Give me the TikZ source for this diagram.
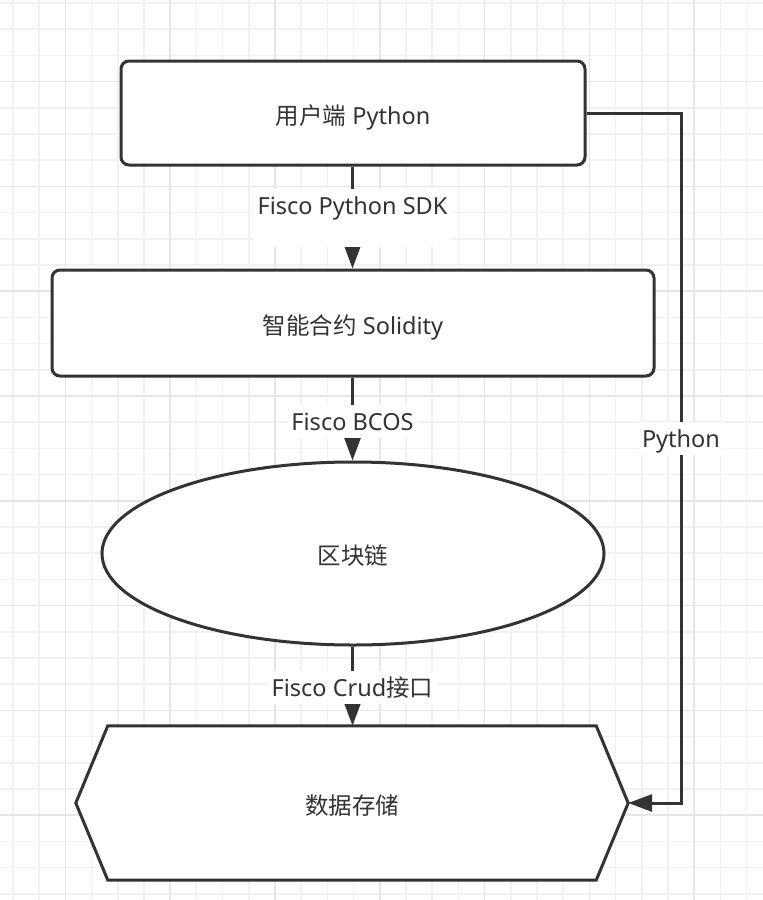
\documentclass[tikz,border=0pt]{standalone}
\usepackage{fontspec}
\setmainfont{Noto Sans}
\newfontfamily\cjk{Noto Sans CJK SC}
\usetikzlibrary{arrows.meta,shapes.geometric,calc}
\definecolor{ink}{HTML}{333333}
\definecolor{gridminor}{HTML}{F1F1F1}
\definecolor{gridmajor}{HTML}{E6E6E6}
\pgfdeclarelayer{gridlayer}
\pgfdeclarelayer{under}
\pgfsetlayers{gridlayer,under,main}
\begin{document}
\begin{tikzpicture}[x=1pt,y=-1pt,
  txt/.style={font=\fontsize{23.5}{28}\selectfont, text=ink},
  shapebox/.style={txt, draw=ink, line width=3pt, fill=white, inner sep=0pt, text height=22pt, text depth=0pt},
  arr/.style={draw=ink, line width=3pt, -{Triangle[width=17pt,length=24pt]}},
  lbl/.style={txt, fill=white, inner xsep=3.5pt, inner ysep=0pt, text height=25pt, text depth=8pt, anchor=base}]
\useasboundingbox (0,0) rectangle (763,900);
\begin{pgfonlayer}{gridlayer}
  \fill[white] (0,0) rectangle (763,900);
  \foreach \k in {0,...,28} {\draw[gridminor, line width=1.5pt] ({13+26.2*\k},0) -- ({13+26.2*\k},900);}
  \foreach \k in {0,...,34} {\draw[gridminor, line width=1.5pt] (0,{3+26.2*\k}) -- (763,{3+26.2*\k});}
  \foreach \k in {2,6,...,26} {\draw[gridmajor, line width=1.5pt] ({13+26.2*\k},0) -- ({13+26.2*\k},900);}
  \foreach \k in {3,7,...,31} {\draw[gridmajor, line width=1.5pt] (0,{3+26.2*\k}) -- (763,{3+26.2*\k});}
\end{pgfonlayer}

\node[shapebox, rounded corners=8pt, minimum width=464pt, minimum height=104pt] (app) at (353,113) {{\cjk 用户端} Python};
\node[shapebox, rounded corners=8pt, minimum width=602pt, minimum height=106pt] (contract) at (353,323) {{\cjk 智能合约} Solidity};
\node[shapebox, ellipse, minimum width=502pt, minimum height=183pt] (chain) at (353,553.5) {{\cjk 区块链}};
\node[txt, inner sep=0pt, minimum width=488pt, minimum height=154pt, text height=22pt, text depth=0pt] (store) at (352,803) {{\cjk 数据存储}};
\coordinate (storetip) at ([xshift=32pt]store.east);
\coordinate (storeleft) at ([xshift=-32pt]store.west);
\begin{pgfonlayer}{under}
  \draw[ink, line width=3pt, fill=white] (store.north west) -- (store.north east) -- (storetip) -- (store.south east) -- (store.south west) -- (storeleft) -- cycle;
\end{pgfonlayer}

\coordinate (turn1) at (681,113);
\coordinate (turn2) at (681,803);

\draw[arr] (app.south -| 352.5,0) -- (contract.north -| 352.5,0);
\draw[arr] (contract.south -| 352.5,0) -- (chain.north -| 352.5,0);
\draw[arr] (chain.south -| 352.5,0) -- (store.north -| 352.5,0);
\draw[arr] (app.east) -- (turn1) -- (turn2) -- (storetip);

\node[lbl, text depth=33pt] (l1) at (352.5,214) {Fisco Python SDK};
\node[lbl] (l2) at (352.5,430) {Fisco BCOS};
\node[lbl] (l3) at (352.5,696) {Fisco Crud{\cjk 接口}};
\node[lbl] (l4) at (681,447) {Python};
\end{tikzpicture}
\end{document}
